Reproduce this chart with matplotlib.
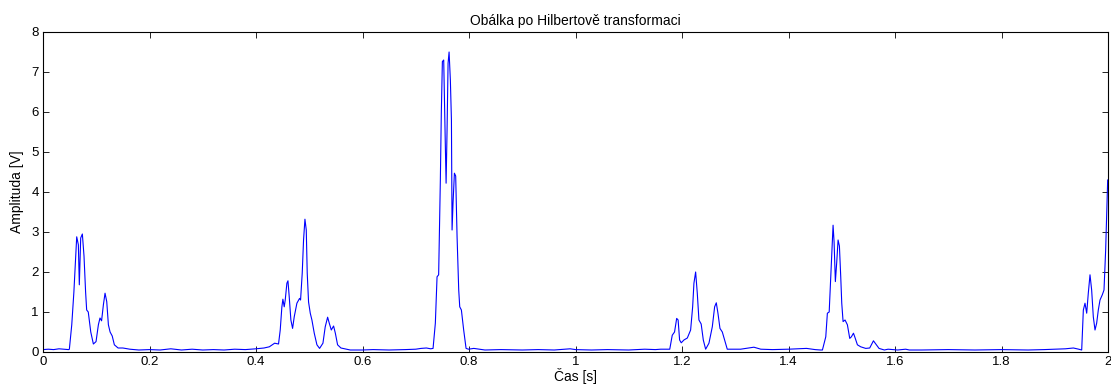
import numpy as np
import matplotlib
matplotlib.use("Agg")
from matplotlib import pyplot as plt
from matplotlib.ticker import FormatStrFormatter

# quiet stretches between the bursts
quiet_t = [0.0, 0.01, 0.02, 0.03, 0.04, 0.048,
           0.18, 0.2, 0.22, 0.24, 0.26, 0.28, 0.3, 0.32, 0.34, 0.36, 0.38, 0.4, 0.415, 0.425, 0.435,
           0.6, 0.62, 0.65, 0.68, 0.7, 0.71, 0.72, 0.728,
           0.83, 0.86, 0.9, 0.93, 0.96, 0.99, 1.0, 1.03, 1.06, 1.1, 1.13, 1.15, 1.16,
           1.37, 1.4, 1.434, 1.45, 1.46,
           1.65, 1.7, 1.75, 1.8, 1.85, 1.88, 1.9, 1.92, 1.935, 1.945]
quiet_v = [0.06, 0.07, 0.06, 0.08, 0.07, 0.06,
           0.05, 0.06, 0.05, 0.08, 0.05, 0.07, 0.05, 0.06, 0.05, 0.07, 0.06, 0.08, 0.1, 0.13, 0.22,
           0.05, 0.06, 0.05, 0.06, 0.07, 0.09, 0.1, 0.08,
           0.05, 0.06, 0.05, 0.06, 0.05, 0.08, 0.06, 0.05, 0.06, 0.05, 0.07, 0.06, 0.07,
           0.06, 0.07, 0.09, 0.06, 0.05,
           0.05, 0.06, 0.05, 0.06, 0.05, 0.06, 0.07, 0.08, 0.1, 0.07]

burst1_t = [0.0495, 0.054, 0.058, 0.0633, 0.0664, 0.0682, 0.0708, 0.0739, 0.077, 0.080, 0.082, 0.085,
            0.0897, 0.0946, 0.0996, 0.104, 0.107, 0.110, 0.1134, 0.1165, 0.1197, 0.1228, 0.126, 0.130,
            0.134, 0.141, 0.150, 0.163]
burst1_v = [0.07, 0.68, 1.5, 2.88, 2.68, 1.68, 2.85, 2.95, 2.4, 1.5, 1.05, 1.0,
            0.5, 0.2, 0.26, 0.68, 0.85, 0.78, 1.18, 1.47, 1.26, 0.68, 0.5, 0.4,
            0.18, 0.1, 0.1, 0.07]

burst2_t = [0.4423, 0.4455, 0.4486, 0.4505, 0.453, 0.4549, 0.458, 0.46, 0.4624, 0.4655, 0.4687, 0.4718,
            0.4768, 0.4818, 0.4837, 0.4868, 0.4893, 0.4919, 0.4944, 0.4962, 0.4987, 0.5019, 0.505, 0.5094,
            0.5144, 0.5194, 0.5257, 0.530, 0.5345, 0.5376, 0.5414, 0.5457, 0.549, 0.5532, 0.5595, 0.577]
burst2_v = [0.2, 0.55, 1.13, 1.32, 1.13, 1.3, 1.72, 1.78, 1.38, 0.8, 0.59, 0.88,
            1.22, 1.34, 1.3, 1.97, 2.8, 3.32, 3.05, 1.97, 1.25, 0.97, 0.8, 0.47,
            0.18, 0.09, 0.22, 0.63, 0.87, 0.72, 0.55, 0.65, 0.47, 0.18, 0.1, 0.05]

burst3_t = [0.7325, 0.7368, 0.74, 0.743, 0.7462, 0.748, 0.75, 0.7525, 0.7537, 0.7556, 0.757, 0.7588,
            0.7607, 0.7626, 0.765, 0.767, 0.7682, 0.77, 0.7726, 0.775, 0.7776, 0.7807, 0.7826, 0.7857,
            0.790, 0.7945, 0.799, 0.809]
burst3_v = [0.09, 0.72, 1.88, 1.93, 4.3, 5.97, 7.26, 7.3, 6.4, 5.13, 4.22, 5.55,
            7.22, 7.5, 6.8, 5.8, 3.05, 3.72, 4.47, 4.4, 2.88, 1.55, 1.13, 1.05,
            0.55, 0.09, 0.07, 0.09]

burst4_t = [1.177, 1.1817, 1.186, 1.19, 1.1927, 1.1955, 1.1986, 1.2036, 1.21, 1.2162, 1.22, 1.2224,
            1.2256, 1.2287, 1.2318, 1.236, 1.24, 1.2444, 1.2506, 1.2569, 1.2613, 1.2644, 1.2675, 1.2713,
            1.2757, 1.28, 1.285, 1.31, 1.335, 1.348]
burst4_v = [0.07, 0.42, 0.5, 0.84, 0.8, 0.3, 0.23, 0.3, 0.35, 0.55, 1.13, 1.72,
            2.0, 1.47, 0.8, 0.7, 0.3, 0.07, 0.22, 0.63, 1.13, 1.23, 0.97, 0.59,
            0.5, 0.3, 0.07, 0.07, 0.12, 0.07]

burst5_t = [1.4637, 1.47, 1.473, 1.4764, 1.4793, 1.4819, 1.4837, 1.4856, 1.488, 1.4906, 1.4931, 1.4956,
            1.4981, 1.5, 1.5025, 1.5062, 1.5106, 1.515, 1.5181, 1.522, 1.5244, 1.5294, 1.5356, 1.545,
            1.5525, 1.5595, 1.564, 1.570, 1.58, 1.587, 1.605, 1.62, 1.627]
burst5_v = [0.05, 0.38, 0.97, 1.0, 1.88, 2.72, 3.17, 2.75, 1.76, 2.25, 2.8, 2.65,
            1.88, 1.22, 0.76, 0.8, 0.68, 0.34, 0.38, 0.47, 0.38, 0.18, 0.13, 0.09,
            0.1, 0.28, 0.2, 0.09, 0.05, 0.07, 0.05, 0.07, 0.05]

burst6_t = [1.9506, 1.9537, 1.9568, 1.96, 1.963, 1.9662, 1.9693, 1.9724, 1.9756, 1.9787, 1.9818, 1.985,
            1.9893, 1.9925, 1.9956, 1.9994]
burst6_v = [0.05, 1.05, 1.22, 0.97, 1.47, 1.93, 1.55, 0.88, 0.55, 0.72, 1.05, 1.3,
            1.43, 1.55, 2.55, 4.3]

t = np.concatenate([quiet_t, burst1_t, burst2_t, burst3_t, burst4_t, burst5_t, burst6_t])
v = np.concatenate([quiet_v, burst1_v, burst2_v, burst3_v, burst4_v, burst5_v, burst6_v])
order = np.argsort(t)
t, v = t[order], v[order]

plt.rcParams['font.family'] = ['Liberation Sans', 'DejaVu Sans']

fig = plt.figure(figsize=(11.11, 3.92), dpi=100)
ax = fig.add_axes([43 / 1111, 40 / 392, 1065 / 1111, 320 / 392])

ax.plot(t, v, color=(0, 0, 1), linewidth=0.8)

ax.set_xlim(0, 2)
ax.set_ylim(0, 8)
ax.set_xticks(np.arange(0, 2.01, 0.2))
ax.set_yticks(np.arange(0, 9, 1))
ax.xaxis.set_major_formatter(FormatStrFormatter('%g'))
ax.tick_params(direction='in', length=4, width=0.6, labelsize=9.5, top=True, right=True, pad=3)
for s in ax.spines.values():
    s.set_linewidth(0.8)

ax.set_title("Obálka po Hilbertově transformaci", fontsize=10, pad=5)
ax.set_xlabel("Čas [s]", fontsize=10, labelpad=0)
ax.set_ylabel("Amplituda [V]", fontsize=10, labelpad=5)

fig.savefig("out.png", dpi=100)
